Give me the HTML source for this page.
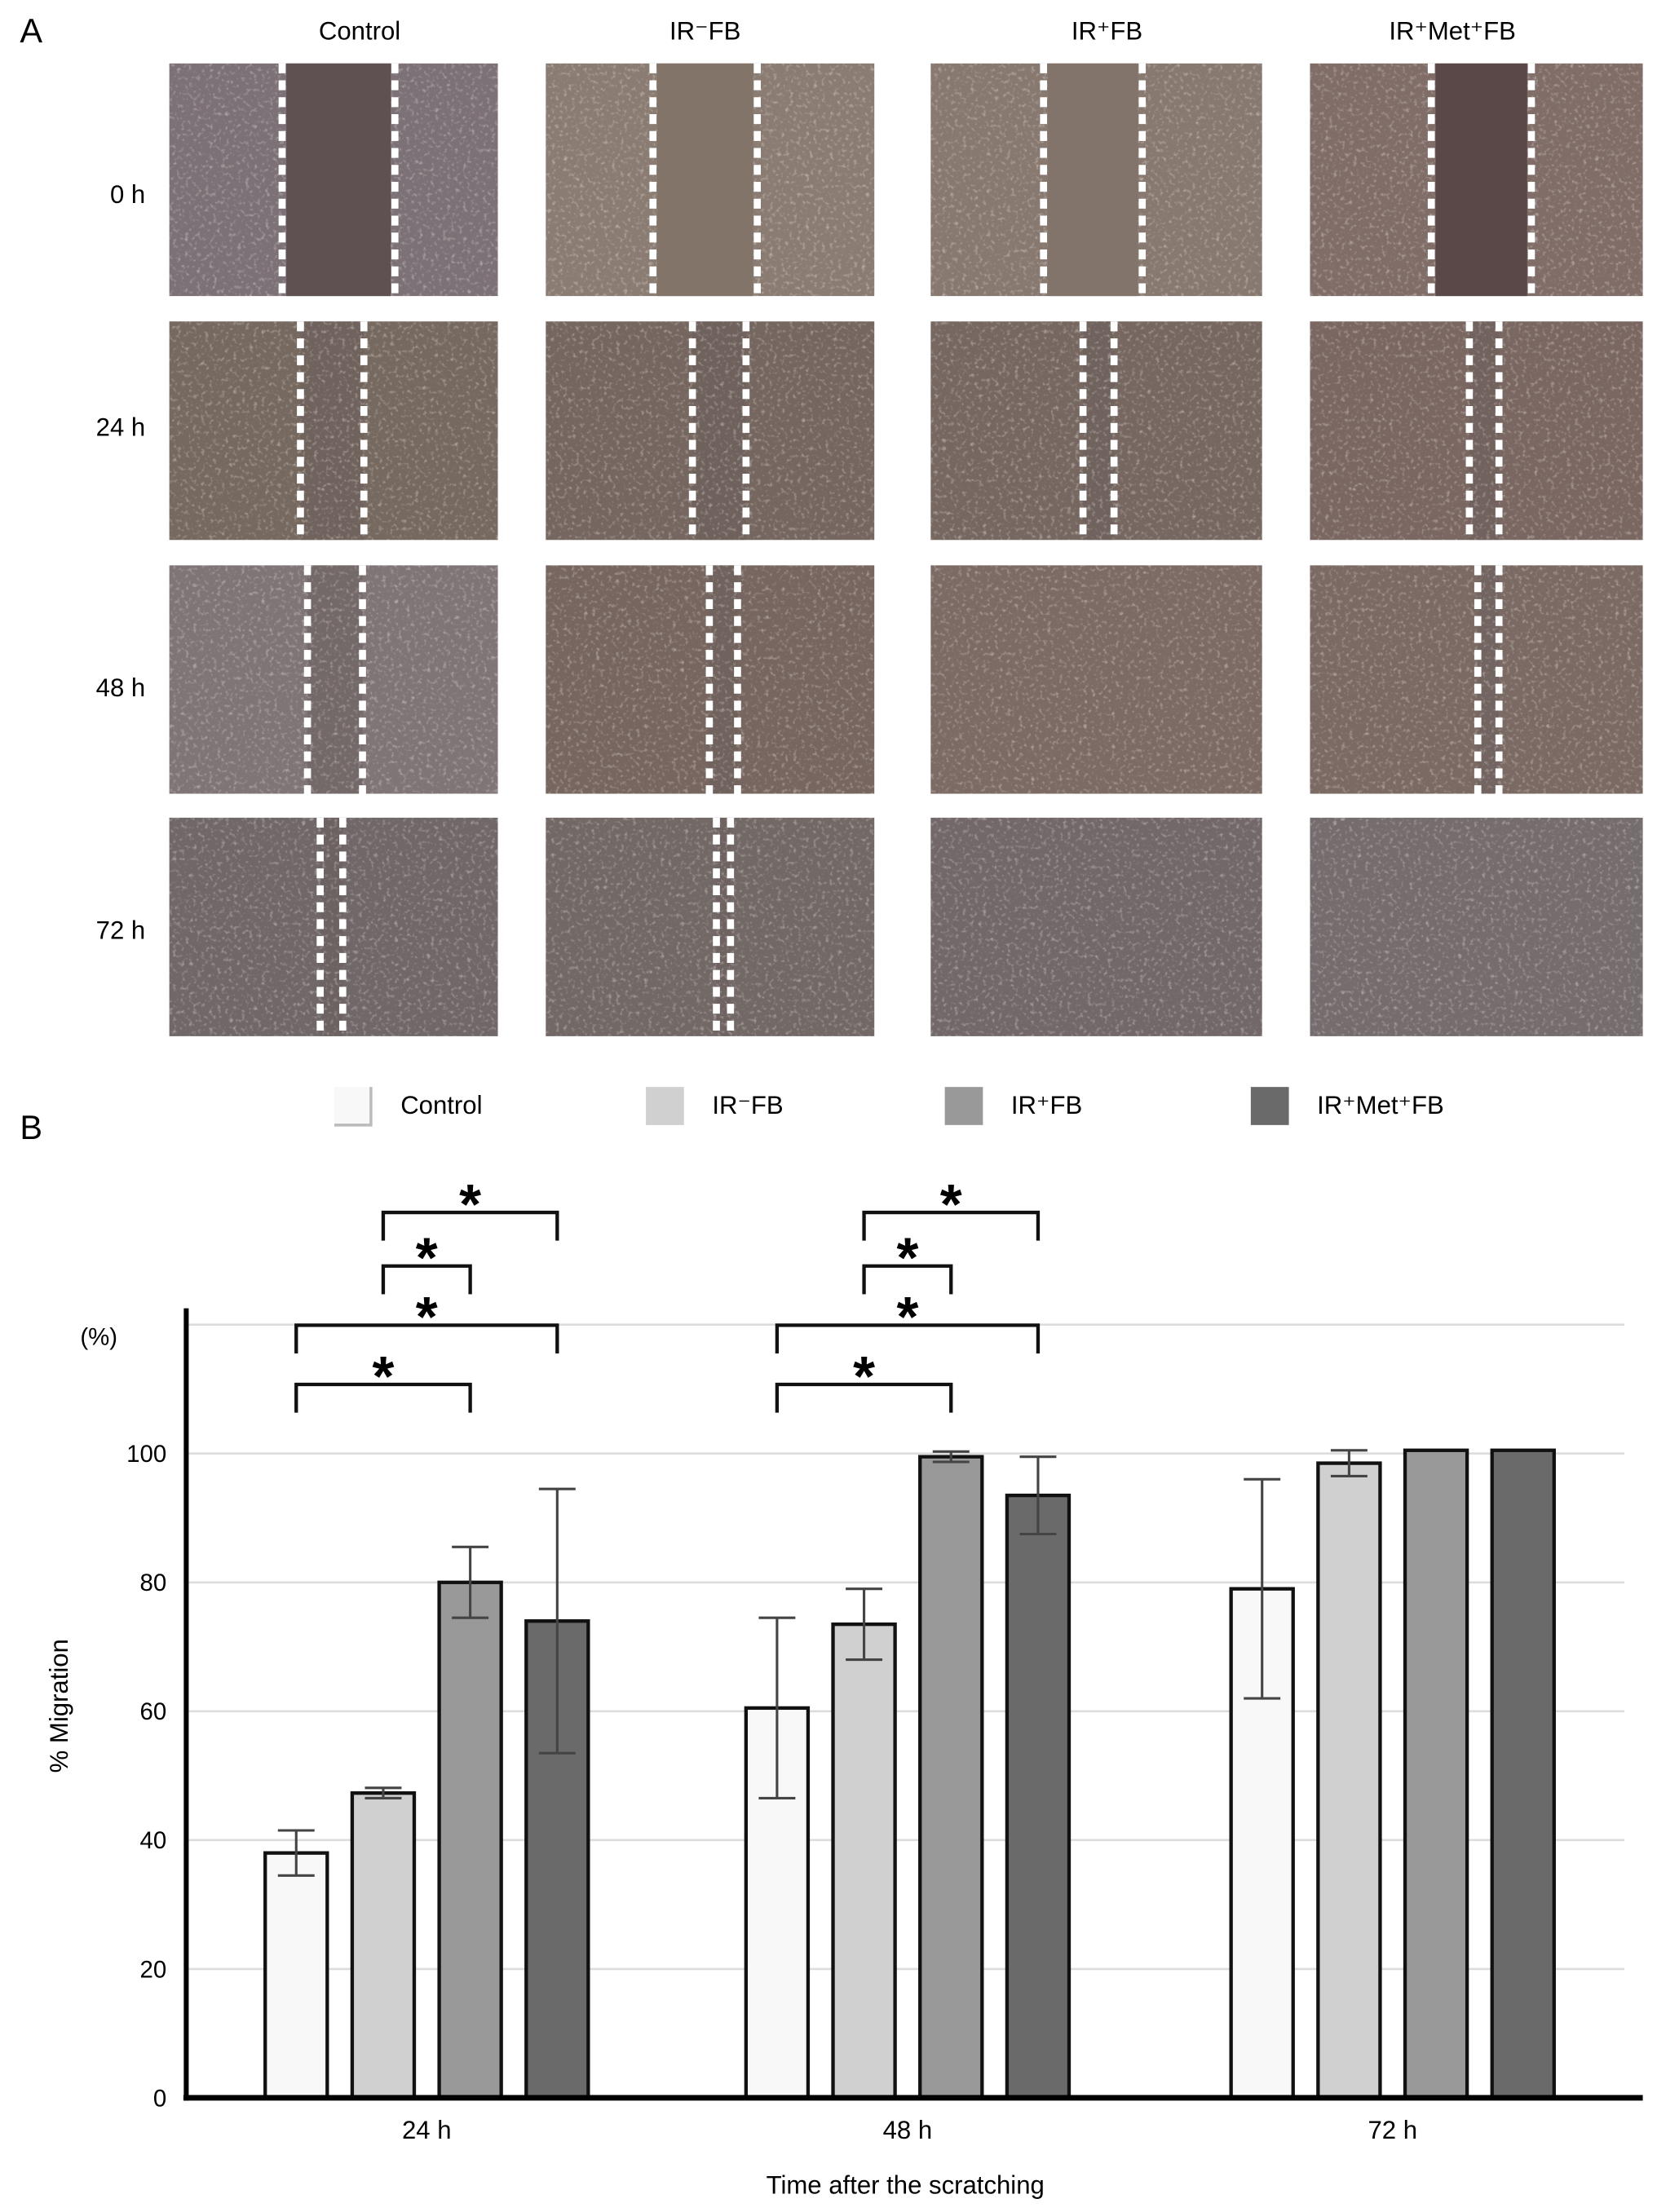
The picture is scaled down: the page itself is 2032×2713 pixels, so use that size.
<!DOCTYPE html>
<html><head><meta charset="utf-8"><style>
html,body{margin:0;padding:0;background:#fff}
svg{display:block;font-family:"Liberation Sans",sans-serif}
</style></head><body>
<svg id="fig" width="2032" height="2713" viewBox="0 0 1175 1569" xmlns="http://www.w3.org/2000/svg">
<defs>
<filter id="speck" x="0" y="0" width="100%" height="100%">
<feTurbulence type="fractalNoise" baseFrequency="0.35" numOctaves="2" seed="3" result="n"/>
<feColorMatrix in="n" type="matrix" values="0 0 0 0 1  0 0 0 0 0.95  0 0 0 0 0.92  0 0 0 2.2 -1.2" result="s"/>
<feComposite in="s" in2="SourceGraphic" operator="in"/>
</filter>
</defs>
<g id="panelA"></g>
<g id="panelB"></g>
</svg>
<script>
const NS="http://www.w3.org/2000/svg";
function mk(p,t,a,txt){const e=document.createElementNS(NS,t);for(const k in a)e.setAttribute(k,a[k]);if(txt!==undefined)e.textContent=txt;p.appendChild(e);return e;}
const A=document.getElementById('panelA');
const B=document.getElementById('panelB');

// ---------- Panel A ----------
const colHeads=["Control","IR⁻FB","IR⁺FB","IR⁺Met⁺FB"];
const headX=[255,500,785,1030];
const rowHeads=["0 h","24 h","48 h","72 h"];
const rowLabelY=[144,309,494,666];
const colX=[[120,353],[387,620],[660,895],[929,1165]];
const rowY=[[45,210],[228,383],[401,563],[580,735]];
const baseCol=[["#7c7176","#8a7c72","#877870","#806d68"],["#76695f","#75665f","#766861","#7a6761"],["#7f7576","#76665f","#7c6a64","#7b6a64"],["#706769","#726866","#72686a","#756c6d"]];
const gapCol=["#5f5152","#837469","#83746b","#5a4748"];
const dashes=[[[200,280],[463,537],[740,810],[1015,1086]],[[213,258],[491,529],[768,790],[1042,1063]],[[218,257],[503,523],null,[1048,1063]],[[227,243],[508,518],null,null]];
let t=mk(A,'text',{x:14,y:30,'font-size':24});t.textContent="A";

colHeads.forEach((h,i)=>{const e=mk(A,'text',{x:headX[i],y:28,'font-size':18,'text-anchor':'middle'},h);
});
rowHeads.forEach((h,r)=>{const e=mk(A,'text',{x:103,y:rowLabelY[r],'font-size':18,'text-anchor':'end'},h);

for(let c=0;c<4;c++){const [x0,x1]=colX[c],[y0,y1]=rowY[r];
const g=mk(A,'g',{});
mk(g,'rect',{x:x0,y:y0,width:x1-x0,height:y1-y0,fill:baseCol[r][c]});
const d=dashes[r][c];
if(d&&r>0)mk(g,'rect',{x:d[0],y:y0,width:d[1]-d[0],height:y1-y0,fill:'#6a5e5b',opacity:0.5});
mk(g,'rect',{x:x0,y:y0,width:x1-x0,height:y1-y0,fill:'#fff',filter:'url(#speck)',opacity:0.5});
if(d&&r===0)mk(g,'rect',{x:d[0]+3,y:y0,width:d[1]-d[0]-6,height:y1-y0,fill:gapCol[c]});
if(d)d.forEach(x=>{const l=mk(g,'line',{x1:x,y1:y0,x2:x,y2:y1,stroke:'#fff','stroke-width':5,'stroke-dasharray':'7,5'});
});
}});

// ---------- Panel B ----------
const categories=["24 h","48 h","72 h"];
const seriesNames=["Control","IR⁻FB","IR⁺FB","IR⁺Met⁺FB"];
const seriesColors=["#f8f8f8","#d0d0d0","#999999","#6a6a6a"];
const controlVals=[38,60.5,79];
const irMinusVals=[47.3,73.5,98.5];
const irPlusVals=[80,99.5,100.5];
const metVals=[74,93.5,100.5];
const controlErr=[3.5,14,17];
const irMinusErr=[0.8,5.5,2];
const irPlusErr=[5.5,0.8,0];
const metErr=[20.5,6,0];
const yTicks=[0,20,40,60,80,100];
const gridVals=[20,40,60,80,100,120];
const values=[controlVals,irMinusVals,irPlusVals,metVals];
const errs=[controlErr,irMinusErr,irPlusErr,metErr];
const yBase=1488,yPer=4.57,axX=132,axR=1152;
const groupStart=[188,529,873],barStep=61.7,barW=44;
const y=v=>yBase-v*yPer;
const bx=(g,s)=>groupStart[g]+s*barStep;

t=mk(B,'text',{x:14,y:808,'font-size':24},"B");

const legX=[237,458,670,887];
seriesNames.forEach((n,i)=>{const g=mk(B,'g',{});
mk(g,'rect',{x:legX[i],y:771,width:27,height:27,fill:seriesColors[i]});
if(i===0)mk(g,'path',{d:`M${legX[i]+26} 771 V798 H${legX[i]}`,stroke:'#bbb','stroke-width':2,fill:'none'});
mk(g,'text',{x:legX[i]+47,y:790,'font-size':18},n);});
gridVals.forEach(v=>{const l=mk(B,'line',{x1:axX,x2:axR,y1:y(v),y2:y(v),stroke:'#dcdcdc','stroke-width':1.5});
});
yTicks.forEach(v=>{const e=mk(B,'text',{x:118,y:y(v)+6,'font-size':17,'text-anchor':'end'},String(v));
});
t=mk(B,'text',{x:70,y:954,'font-size':17,'text-anchor':'middle'},"(%)");

t=mk(B,'text',{x:0,y:0,'font-size':18,'text-anchor':'middle',transform:'translate(48,1210) rotate(-90)'},"% Migration");

values.forEach((arr,s)=>arr.forEach((v,g)=>{const x=bx(g,s);
const r=mk(B,'rect',{x:x,y:y(v),width:barW,height:yBase-y(v),fill:seriesColors[s],stroke:'#111','stroke-width':2.5});

const e=errs[s][g];if(e>0){const cx=x+barW/2;const eg=mk(B,'g',{stroke:'#444','stroke-width':1.8});

mk(eg,'line',{x1:cx,x2:cx,y1:y(v+e),y2:y(v-e)});
mk(eg,'line',{x1:cx-13,x2:cx+13,y1:y(v+e),y2:y(v+e)});
mk(eg,'line',{x1:cx-13,x2:cx+13,y1:y(v-e),y2:y(v-e)});}}));
t=mk(B,'line',{x1:axX,x2:axX,y1:928,y2:yBase+2,stroke:'#000','stroke-width':3.5});

t=mk(B,'line',{x1:axX-2,x2:1165,y1:yBase,y2:yBase,stroke:'#000','stroke-width':4});

categories.forEach((c,g)=>{const e=mk(B,'text',{x:bx(g,0)+(barStep*3+barW)/2,y:1517,'font-size':18,'text-anchor':'middle'},c);
});
t=mk(B,'text',{x:642,y:1556,'font-size':18,'text-anchor':'middle'},"Time after the scratching");

const brackets=[[1,3,860],[1,2,898],[0,3,940],[0,2,982]];
[0,1].forEach(g=>brackets.forEach(([a,b,yy])=>{const xa=bx(g,a)+barW/2,xb=bx(g,b)+barW/2;
const bg=mk(B,'g',{});
mk(bg,'path',{d:`M${xa} ${yy+20} V${yy} H${xb} V${yy+20}`,stroke:'#111','stroke-width':2.5,fill:'none'});
mk(bg,'text',{x:(xa+xb)/2,y:yy+8,'font-size':40,'font-weight':'bold','text-anchor':'middle'},"*");}));
</script>
</body></html>
